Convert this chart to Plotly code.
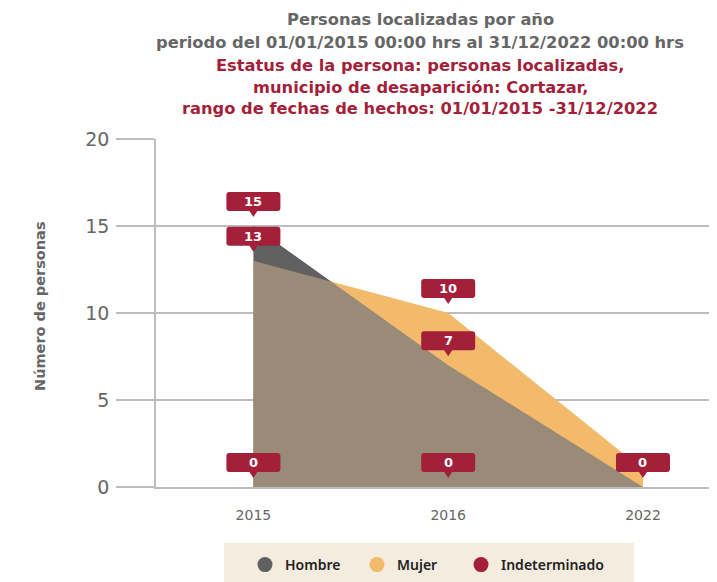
import plotly.graph_objects as go

# ---- data ----
years = ["2015", "2016", "2022"]
hombre = [15, 7, 0]
mujer = [13, 10, 1]
indeterminado = [0, 0, 0]
series_names = ["Hombre", "Mujer", "Indeterminado"]
y_ticks = [0, 5, 10, 15, 20]

title_lines_gray = ["Personas localizadas por año",
                    "periodo del 01/01/2015 00:00 hrs al 31/12/2022 00:00 hrs"]
title_lines_red = ["Estatus de la persona: personas localizadas,",
                   "municipio de desaparición: Cortazar,",
                   "rango de fechas de hechos: 01/01/2015 -31/12/2022"]
y_title = "Número de personas"

# ---- style / layout (page body has an 8px default margin) ----
OFF = 8
W, H = 717 - OFF, 582 - OFF
ML, MR, MT, MB = 148, 0, 131, 95
PLOT_H = H - MT - MB
PLOT_W = W - ML - MR
GRAY = "rgb(96,96,96)"
ORANGE_BASE = "rgb(243,174,74)"
ORANGE_TOP = "rgba(241,206,156,0.4)"
ORANGE = "#F2BB6B"
RED = "#A31F3A"
TXT_GRAY = "#666666"
GRID = "#BDBDBD"
FONT = "DejaVu Sans, sans-serif"
FONT2 = "Noto Sans, sans-serif"


def px(x):  # screen x -> paper
    return (x - OFF - ML) / PLOT_W


def py(y):  # screen y -> paper
    return ((H - MB) - (y - OFF)) / PLOT_H


fig = go.Figure()

# Mujer base layer
fig.add_trace(go.Scatter(x=years, y=mujer, mode="lines", fill="tozeroy",
                         line=dict(width=0), fillcolor=ORANGE_BASE,
                         showlegend=False, hoverinfo="skip"))
# Hombre layer
fig.add_trace(go.Scatter(x=years, y=hombre, mode="lines", fill="tozeroy",
                         line=dict(width=0), fillcolor=GRAY,
                         showlegend=False, name="Hombre"))
# Mujer translucent top layer (gives the blended overlap colour)
fig.add_trace(go.Scatter(x=years, y=mujer, mode="lines", fill="tozeroy",
                         line=dict(width=0), fillcolor=ORANGE_TOP,
                         showlegend=False, name="Mujer"))
# Indeterminado
fig.add_trace(go.Scatter(x=years, y=indeterminado, mode="lines", fill="tozeroy",
                         line=dict(width=0, color=RED), fillcolor=RED,
                         showlegend=False, name="Indeterminado"))

# legend entries (circles), one legend each so they can be spaced freely
legend_ids = ["legend", "legend2", "legend3"]
legend_x = [245, 357, 461]
for name, col, lid in zip(series_names, [GRAY, ORANGE, RED], legend_ids):
    fig.add_trace(go.Scatter(x=[None], y=[None], mode="markers", name=name,
                             legend=lid,
                             marker=dict(symbol="circle", size=15, color=col)))

# ---- data labels (pins), hiding overlapping ones ----
y_max = y_ticks[-1]
ppu = PLOT_H / y_max
BOX_H = 19
label_path = ("M -4,15 L 0,9 L 4,15 L 24,15 Q 27,15 27,18 L 27,31 Q 27,34 24,34 "
              "L -24,34 Q -27,34 -27,31 L -27,18 Q -27,15 -24,15 Z")
shapes = []
annotations = []
for i, yr in enumerate(years):
    placed = []
    for vals in (hombre, mujer, indeterminado):
        v = vals[i]
        if any(abs(v - p) * ppu < BOX_H for p in placed):
            continue
        placed.append(v)
        shapes.append(dict(type="path", xref="x", yref="y", xsizemode="pixel",
                           ysizemode="pixel", xanchor=i, yanchor=v,
                           path=label_path, fillcolor=RED, line=dict(width=0),
                           layer="above"))
        annotations.append(dict(x=i, y=v, xref="x", yref="y", text=str(v),
                                showarrow=False, yshift=24.5, yanchor="middle",
                                font=dict(family=FONT, size=13, color="white",
                                          weight="bold")))

# ---- title lines ----
title_cy = [20, 43, 65, 87, 108]
for txt, cy, col in zip(title_lines_gray + title_lines_red, title_cy,
                        [TXT_GRAY] * 2 + [RED] * 3):
    annotations.append(dict(x=px(420), y=py(cy), xref="paper",
                            yref="paper", text=txt, showarrow=False,
                            xanchor="center", yanchor="middle",
                            font=dict(family=FONT, size=16.3, color=col,
                                      weight="bold")))

# y axis title
annotations.append(dict(x=px(40), y=py(306),
                        xref="paper", yref="paper", text=y_title,
                        showarrow=False, textangle=-90, xanchor="center",
                        yanchor="middle",
                        font=dict(family=FONT, size=14.5, color=TXT_GRAY,
                                  weight="bold")))

# legend background box
shapes.append(dict(type="rect", xref="paper", yref="paper",
                   x0=px(224), x1=px(634), y0=py(600), y1=py(543),
                   fillcolor="#F4ECDF", line=dict(width=0), layer="below"))

legend_style = dict(orientation="h", xanchor="left", y=py(565), yanchor="middle",
                    bgcolor="rgba(0,0,0,0)",
                    font=dict(family=FONT2, size=14, color="#222222", weight=600),
                    itemclick=False)

fig.update_layout(
    width=W, height=H,
    margin=dict(l=ML, r=MR, t=MT, b=MB),
    paper_bgcolor="white", plot_bgcolor="white",
    font=dict(family=FONT, color=TXT_GRAY),
    shapes=shapes, annotations=annotations,
    showlegend=True,
    legend=dict(x=px(legend_x[0]), **legend_style),
    legend2=dict(x=px(legend_x[1]), **legend_style),
    legend3=dict(x=px(legend_x[2]), **legend_style),
    xaxis=dict(type="category", range=[-0.5, 2.38], showgrid=False,
               showline=True, linecolor=GRID, linewidth=2,
               tickfont=dict(family=FONT, size=14, color=TXT_GRAY), ticks="",
               ticklabelstandoff=14, fixedrange=True),
    yaxis=dict(range=[0, y_max], tickvals=y_ticks, showgrid=True,
               gridcolor=GRID, gridwidth=1.5, showline=True, linecolor=GRID,
               linewidth=1.5, ticks="outside", ticklen=38, tickcolor=GRID,
               tickwidth=1.5, tickfont=dict(family=FONT, size=19, color=TXT_GRAY),
               ticklabelstandoff=3, zeroline=False, fixedrange=True),
)

fig.write_html("out.html")
